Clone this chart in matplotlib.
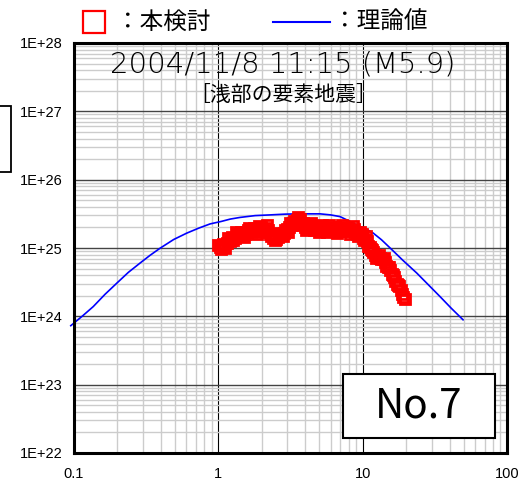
import numpy as np
import matplotlib
matplotlib.use('Agg')
import matplotlib.pyplot as plt
from matplotlib.patches import Rectangle
from matplotlib.lines import Line2D
from matplotlib.ticker import LogLocator, NullFormatter

# observed source spectrum (red squares)
obs_freq = [1.00, 1.02, 1.04, 1.06, 1.08, 1.10, 1.12, 1.145, 1.17, 1.195,
            1.22, 1.245, 1.27, 1.295, 1.32, 1.35, 1.38, 1.41, 1.44, 1.47,
            1.50, 1.53, 1.56, 1.595, 1.63, 1.665, 1.70, 1.735, 1.77, 1.805,
            1.84, 1.88, 1.92, 1.96, 2.00, 2.045, 2.09, 2.135, 2.18, 2.225,
            2.27, 2.315, 2.36, 2.41, 2.46, 2.515, 2.57, 2.625, 2.68, 2.735,
            2.79, 2.85, 2.91, 2.97, 3.03, 3.095, 3.16, 3.225, 3.29, 3.36,
            3.43, 3.505, 3.58, 3.655, 3.73, 3.81, 3.89, 3.97, 4.05, 4.135,
            4.22, 4.31, 4.40, 4.495, 4.59, 4.685, 4.78, 4.88, 4.98, 5.085,
            5.19, 5.30, 5.41, 5.525, 5.64, 5.76, 5.88, 6.005, 6.13, 6.26,
            6.39, 6.525, 6.66, 6.80, 6.94, 7.085, 7.23, 7.385, 7.54, 7.70,
            7.86, 8.025, 8.19, 8.365, 8.54, 8.72, 8.90, 9.085, 9.27, 9.465,
            9.66, 9.865, 10.07, 10.285, 10.50, 10.72, 10.94, 11.17, 11.40, 11.64,
            11.88, 12.13, 12.38, 12.64, 12.90, 13.175, 13.45, 13.735, 14.02, 14.315,
            14.61, 14.915, 15.22, 15.54, 15.86, 16.195, 16.53, 16.88, 17.23, 17.595,
            17.96, 18.34, 18.72, 19.11, 19.50]
obs_amp = [1.12e25, 1.02e25, 9.8e24, 1.05e25, 1.15e25, 1.08e25, 1.00e25, 1.20e25, 1.38e25, 1.25e25,
           1.32e25, 1.45e25, 1.29e25, 1.40e25, 1.70e25, 1.60e25, 1.48e25, 1.62e25, 1.70e25, 1.55e25,
           1.45e25, 1.58e25, 1.70e25, 1.82e25, 1.95e25, 1.80e25, 1.70e25, 1.85e25, 1.95e25, 1.75e25,
           1.62e25, 1.85e25, 2.09e25, 2.00e25, 1.91e25, 1.80e25, 1.74e25, 1.95e25, 2.14e25, 1.85e25,
           1.58e25, 1.50e25, 1.62e25, 1.42e25, 1.29e25, 1.35e25, 1.45e25, 1.55e25, 1.66e25, 1.58e25,
           1.48e25, 1.65e25, 1.82e25, 1.90e25, 1.70e25, 2.05e25, 2.34e25, 2.20e25, 2.34e25, 2.50e25,
           2.29e25, 2.60e25, 2.82e25, 2.65e25, 2.34e25, 2.15e25, 2.34e25, 2.05e25, 1.82e25, 1.95e25,
           2.09e25, 2.15e25, 2.29e25, 2.05e25, 1.86e25, 1.98e25, 2.09e25, 1.90e25, 1.70e25, 1.92e25,
           2.14e25, 2.00e25, 1.91e25, 1.82e25, 1.70e25, 1.92e25, 2.14e25, 1.95e25, 1.78e25, 1.88e25,
           2.00e25, 1.80e25, 1.66e25, 1.80e25, 1.95e25, 2.05e25, 2.14e25, 1.95e25, 1.78e25, 1.85e25,
           1.95e25, 1.78e25, 1.62e25, 1.85e25, 2.09e25, 1.92e25, 1.74e25, 1.62e25, 1.51e25, 1.62e25,
           1.74e25, 1.58e25, 1.41e25, 1.30e25, 1.48e25, 1.25e25, 1.07e25, 1.02e25, 9.8e24, 9.2e24,
           8.7e24, 7.8e24, 7.1e24, 7.4e24, 7.8e24, 7.2e24, 6.8e24, 7.0e24, 7.1e24, 6.2e24,
           5.5e24, 5.3e24, 5.2e24, 4.7e24, 4.2e24, 4.0e24, 3.8e24, 3.3e24, 2.95e24, 2.85e24,
           2.75e24, 2.45e24, 2.14e24, 1.95e24, 1.78e24]

# theoretical spectrum (blue line)
theo_freq = [0.095, 0.115, 0.136, 0.164, 0.198, 0.238, 0.286, 0.336, 0.394, 0.49,
             0.604, 0.73, 0.876, 1.05, 1.21, 1.41, 1.8, 2.28, 2.9, 3.68,
             4.3, 5.07, 6.0, 6.97, 8.0, 9.1, 10.4, 11.8, 13.5, 15.5,
             19.0, 23.7, 28.5, 34.4, 41.0, 49.6]
theo_amp = [7.3e23, 1.02e24, 1.39e24, 2.1e24, 3.06e24, 4.4e24, 5.99e24, 7.8e24, 9.9e24, 1.33e25,
            1.65e25, 1.95e25, 2.25e25, 2.45e25, 2.65e25, 2.8e25, 2.98e25, 3.05e25, 3.13e25, 3.16e25,
            3.16e25, 3.16e25, 3.05e25, 2.88e25, 2.5e25, 2.17e25, 1.93e25, 1.66e25, 1.32e25, 1.0e25,
            6.6e24, 4.3e24, 2.9e24, 1.94e24, 1.32e24, 8.9e23]

x_ticks = [0.1, 1, 10, 100]
x_labels = ['0.1', '1', '10', '100']
y_ticks = [1e22, 1e23, 1e24, 1e25, 1e26, 1e27, 1e28]
y_labels = ['1E+22', '1E+23', '1E+24', '1E+25', '1E+26', '1E+27', '1E+28']

title_line1 = '2004/11/8 11:15 (M5.9)'
title_line2 = '［浅部の要素地震］'
legend_obs = '：本検討'
legend_theo = '：理論値'
panel_label = 'No.7'

plt.rcParams['font.family'] = ['Noto Sans CJK JP', 'DejaVu Sans']

W, H = 520, 483
fig = plt.figure(figsize=(W / 100, H / 100), dpi=100)
ax = fig.add_axes([74 / W, 1 - 453 / H, 433 / W, 410 / H])
ax.set_xscale('log')
ax.set_yscale('log')
ax.set_xlim(0.1, 100)
ax.set_ylim(1e22, 1e28)

# grid
for axis in (ax.xaxis, ax.yaxis):
    axis.set_minor_locator(LogLocator(base=10, subs=np.arange(2, 10), numticks=20))
    axis.set_minor_formatter(NullFormatter())
ax.grid(True, which='minor', color='#cccccc', lw=1.0)
ax.grid(True, which='major', axis='x', color='black', lw=0.8)
ax.grid(True, which='major', axis='y', color='#444444', lw=1.0)
ax.set_axisbelow(True)

# data
ax.plot(theo_freq, theo_amp, color='#0000ff', lw=1.2, clip_on=False, zorder=3)
ax.plot(obs_freq, obs_amp, 's', ms=7.5, mfc='none', mec='#ff0000', mew=2.0, zorder=4)

# ticks
ax.set_xticks(x_ticks)
ax.set_xticklabels(x_labels, fontfamily='Liberation Sans', fontsize=10.5)
ax.set_yticks(y_ticks)
ax.set_yticklabels(y_labels, fontfamily='Liberation Sans', fontsize=10.5)
ax.tick_params(which='both', length=0)
ax.tick_params(axis='x', pad=10)
ax.tick_params(axis='y', pad=8)
for s in ax.spines.values():
    s.set_linewidth(2.2)
    s.set_color('black')
    s.set_zorder(6)

# titles inside the plot
ax.text(0.483, 0.948, title_line1, transform=ax.transAxes, ha='center', va='center',
        fontsize=21, fontfamily='DejaVu Sans', fontweight='light', zorder=5)
ax.text(0.483, 0.873, title_line2, transform=ax.transAxes, ha='center', va='center', fontsize=15, zorder=5)

# No.7 box
ax.add_patch(Rectangle((0.621, 0.037), 0.351, 0.156, transform=ax.transAxes,
                       facecolor='white', edgecolor='black', lw=1.5, zorder=5))
ax.text(0.797, 0.115, panel_label, transform=ax.transAxes, ha='center', va='center',
        fontsize=29, zorder=6)

# legend above the plot
fig.add_artist(Line2D([94 / W], [1 - 22 / H], marker='s', ms=16, mfc='none', mec='#ff0000', mew=1.6,
                      transform=fig.transFigure))
fig.text(116 / W, 1 - 22 / H, legend_obs, fontsize=17, ha='left', va='center')
fig.add_artist(Line2D([273 / W, 330 / W], [1 - 22 / H, 1 - 22 / H], color='#0000ff', lw=1.5,
                      transform=fig.transFigure))
fig.text(333 / W, 1 - 22 / H, legend_theo, fontsize=17, ha='left', va='center')

# clipped box at the left edge
fig.add_artist(Rectangle((-20 / W, 1 - 172 / H), 31 / W, 66 / H, transform=fig.transFigure,
                         fill=False, edgecolor='black', lw=1.3))

fig.savefig('out.png', dpi=100)
